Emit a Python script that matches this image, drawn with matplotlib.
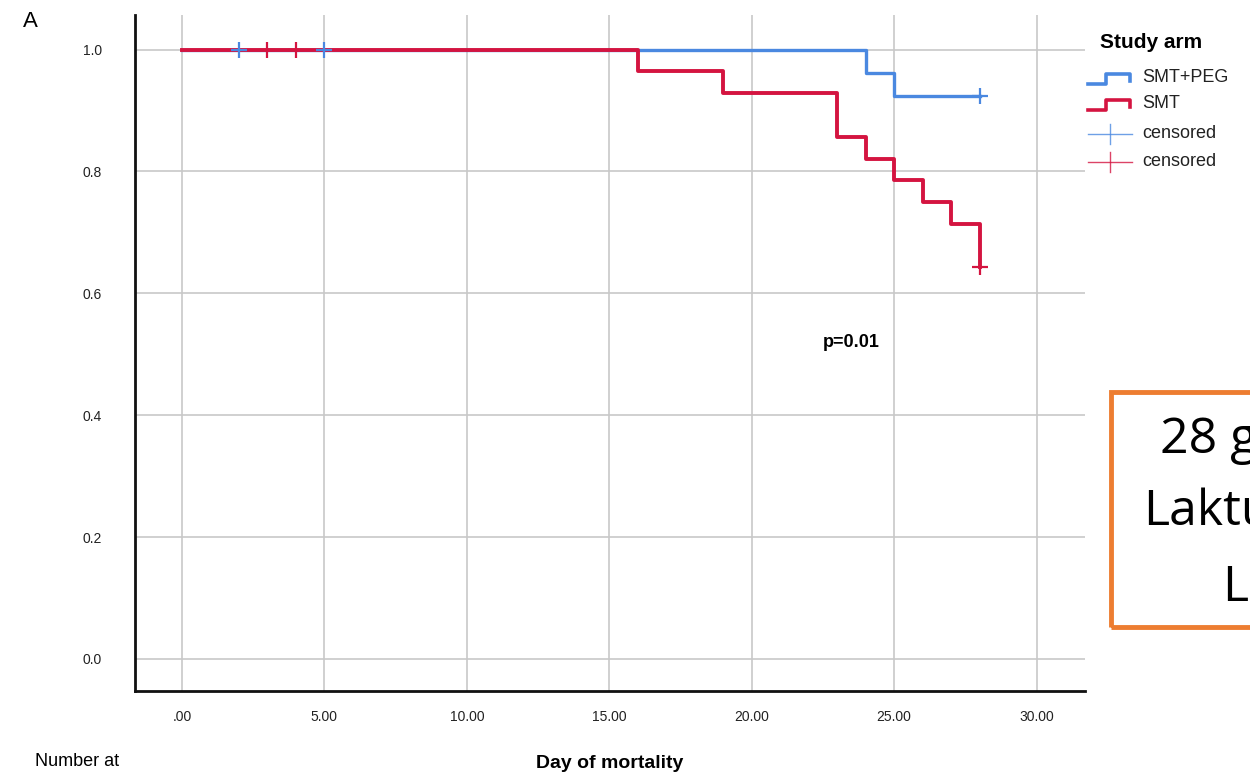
import matplotlib.pyplot as plt
from matplotlib.lines import Line2D
from matplotlib.patches import Rectangle

plt.rcParams['font.family'] = ['Liberation Sans', 'DejaVu Sans']

# Kaplan-Meier step data (day, survival)
peg_days = [0, 24, 25, 28]
peg_surv = [1.0, 0.962, 0.923, 0.923]
smt_days = [0, 16, 19, 23, 24, 25, 26, 27, 28]
smt_surv = [1.0, 0.964, 0.929, 0.857, 0.821, 0.786, 0.750, 0.714, 0.643]

# censored observations
peg_cens_days = [2, 5, 28]
peg_cens_surv = [1.0, 1.0, 0.923]
smt_cens_days = [3, 4, 28]
smt_cens_surv = [1.0, 1.0, 0.643]

x_ticks = [0, 5, 10, 15, 20, 25, 30]
x_labels = ['.00', '5.00', '10.00', '15.00', '20.00', '25.00', '30.00']
y_ticks = [0.0, 0.2, 0.4, 0.6, 0.8, 1.0]

blue = '#4a88e0'
red = '#d41440'

fig = plt.figure(figsize=(12.5, 7.78), dpi=100)
ax = fig.add_axes([0.108, 0.112, 0.760, 0.869])

ax.step(peg_days, peg_surv, where='post', color=blue, lw=2.4, zorder=3)
ax.step(smt_days, smt_surv, where='post', color=red, lw=2.8, zorder=4)
ax.plot(peg_cens_days, peg_cens_surv, ls='none', marker='+', ms=11, mew=1.6, color=blue, zorder=5)
ax.plot(smt_cens_days, smt_cens_surv, ls='none', marker='+', ms=11, mew=1.6, color=red, zorder=5)

ax.set_xlim(-1.65, 31.7)
ax.set_ylim(-0.0525, 1.057)
ax.set_xticks(x_ticks)
ax.set_xticklabels(x_labels)
ax.set_yticks(y_ticks)
ax.set_yticklabels(['%.1f' % v for v in y_ticks])
ax.tick_params(length=0, labelsize=10, colors='#222222')
ax.tick_params(axis='x', pad=14)
ax.tick_params(axis='y', pad=24)
ax.grid(True, color='#c8c8c8', lw=1.2)
ax.set_axisbelow(True)
for s in ['top', 'right']:
    ax.spines[s].set_visible(False)
for s in ['left', 'bottom']:
    ax.spines[s].set_linewidth(2.0)
    ax.spines[s].set_color('#111111')

ax.text(23.5, 0.52, 'p=0.01', fontsize=13, fontweight='bold', ha='center', va='center')

W, H = 1250., 778.
def fx(px):
    return px / W
def fy(py):
    return 1 - py / H

fig.text(fx(610), fy(763), 'Day of mortality', fontsize=14, fontweight='bold', ha='center', va='center')
fig.text(0.018, 0.972, 'A', fontsize=16, va='center')
fig.text(0.028, 0.021, 'Number at', fontsize=13, va='center')

# legend, drawn by hand
fig.text(fx(1100), fy(43), 'Study arm', fontsize=15, fontweight='bold', va='center')
rows = [(78, blue, 'SMT+PEG', 'step'), (104, red, 'SMT', 'step'),
        (134, blue, 'censored', 'cens'), (162, red, 'censored', 'cens')]
for py, col, lab, kind in rows:
    if kind == 'step':
        xs = [1088, 1106, 1106, 1130, 1130]
        ys = [py + 6, py + 6, py - 4, py - 4, py + 3]
        fig.add_artist(Line2D([fx(v) for v in xs], [fy(v) for v in ys], color=col, lw=2.6))
    else:
        fig.add_artist(Line2D([fx(1088), fx(1132)], [fy(py), fy(py)], color=col, lw=1.0, alpha=0.8))
        fig.add_artist(Line2D([fx(1110), fx(1110)], [fy(py - 10), fy(py + 10)], color=col, lw=1.0, alpha=0.8))
    fig.text(fx(1142), fy(py), lab, fontsize=13, va='center', color='#222222')

# orange annotation box (cut off at figure edge)
fig.add_artist(Rectangle((fx(1111), fy(627)), fx(200), fy(392) - fy(627),
                         fill=False, edgecolor='#ed7d31', lw=3.5))
box_font = ['Open Sans', 'DejaVu Sans']
fig.text(fx(1160), fy(440), '28 g', fontsize=36, va='center', family=box_font)
fig.text(fx(1143), fy(512), 'Laktu', fontsize=36, va='center', family=box_font)
fig.text(fx(1222), fy(588), 'La', fontsize=36, va='center', family=box_font)

fig.savefig('out.png', dpi=100)
